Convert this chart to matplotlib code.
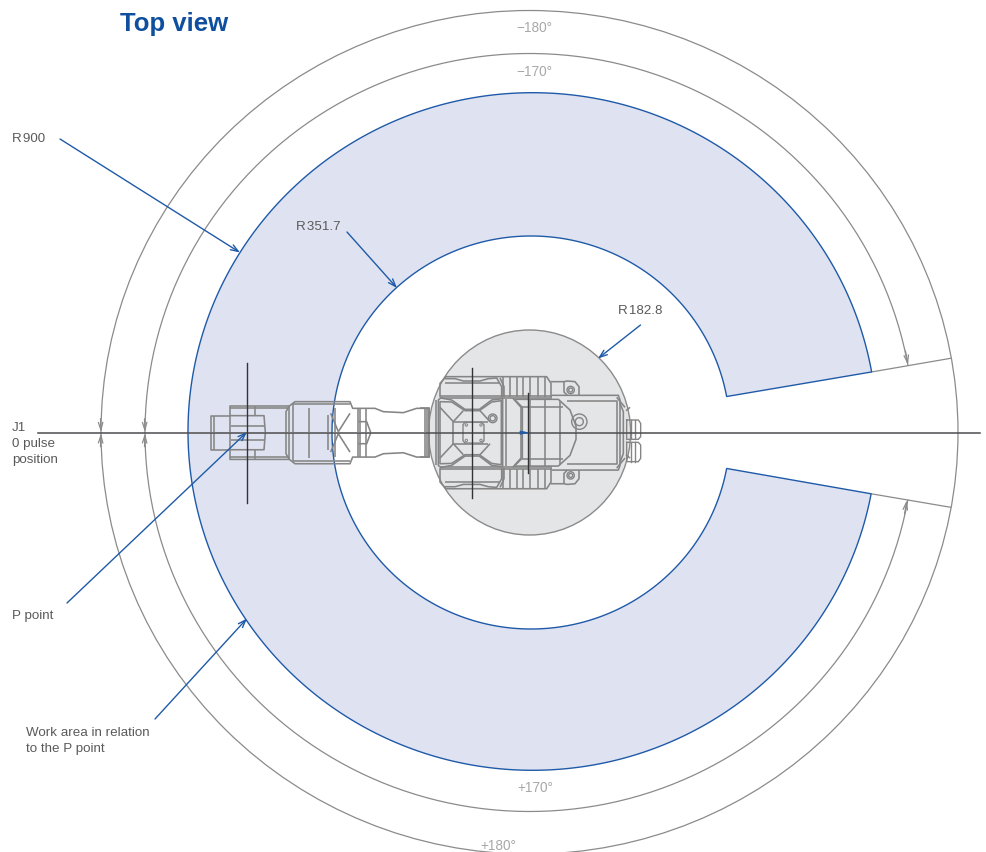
import numpy as np
import matplotlib
matplotlib.use("Agg")
import matplotlib.pyplot as plt
from matplotlib.patches import Ellipse, Polygon, Circle

plt.rcParams['font.family'] = ['Liberation Sans', 'DejaVu Sans']

# --- values (pixel frame of the drawing) ---
title = "Top view"
limit_labels = ["\u2212180\u00b0", "\u2212170\u00b0", "+170\u00b0", "+180\u00b0"]
limit_label_x = [534, 534, 535, 498]
limit_label_y = [28.5, 72.5, 788.5, 845.5]
call_labels = ["R\u200a900", "R\u200a351.7", "R\u200a182.8", "J1\n0 pulse\nposition", "P point", "Work area in relation\nto the P point"]
call_x = [12, 296, 618, 12, 12, 26]
call_y = [139.5, 226.5, 310.5, 444, 616.5, 741]
leader_from = [(60, 139), (347, 232), (640.5, 325), (67, 603), (155, 719)]
leader_to = [(240, 252.5), (397, 288), (598, 358.5), (247, 432), (247, 618.5)]

outer_180 = (529.5, 432.3, 428.5, 421.8)   # cx, cy, rx, ry
outer_170 = (529.5, 432.5, 384.5, 379.0)
area_outer = (532.5, 431.5, 344.5, 338.8)
area_inner = (531.0, 432.5, 199.0, 196.5)
base_circle = (529.6, 432.5, 101.0, 102.5)
corner_outer_up = (871.3, 372.0)
corner_inner_up = (725.7, 396.7)
corner_outer_lo = (870.7, 493.7)
corner_inner_lo = (725.7, 468.3)
limit_end_up = (950.7, 358.3)
limit_end_lo = (950.7, 507.3)
arc170_end_up = (908.0, 365.0)
arc170_end_lo = (907.0, 500.0)
axis_y = 432.7
axis_x = (38, 980)
tick_x = [101, 145]

# robot outline, upper half, crops of the base (z1) and of the arm end (z2)
base_poly = [
    [(60, 232), (60, 190), (78, 170), (380, 170), (393, 190), (393, 232)],
    [(60, 228), (395, 228)], [(60, 234), (395, 234)], [(75, 190), (240, 190)],
    [(75, 176), (105, 176), (130, 183), (180, 183), (205, 176), (230, 174), (245, 200), (245, 232)],
    [(240, 174), (252, 200), (252, 232)],
    [(250, 172), (250, 230)], [(270, 172), (270, 230)], [(290, 172), (290, 230)], [(310, 172), (310, 230)],
    [(330, 172), (330, 230)], [(355, 172), (355, 230)], [(375, 172), (375, 230)],
    [(55, 338), (55, 240), (62, 234), (95, 240), (135, 268), (178, 268), (215, 240), (248, 236), (248, 338)],
    [(60, 338), (60, 245), (95, 246), (135, 272), (178, 272), (215, 246), (244, 242), (244, 338)],
    [(100, 305), (130, 272)], [(210, 305), (180, 272)], [(100, 305), (205, 305)], [(100, 305), (100, 338)],
    [(60, 262), (100, 305)],
    [(258, 238), (258, 338)], [(278, 234), (303, 262), (303, 338)], [(283, 238), (307, 262), (307, 338)],
    [(285, 238), (415, 238), (450, 270), (468, 318), (468, 338)],
    [(330, 238), (330, 338)], [(375, 238), (375, 338)], [(420, 242), (420, 338)], [(305, 260), (430, 260)],
    [(395, 226), (595, 226), (600, 240), (600, 338)], [(440, 244), (590, 244), (590, 338)],
    [(392, 185), (432, 185), (442, 183), (465, 185), (477, 200), (477, 226)],
    [(432, 185), (432, 216), (442, 226)],
    [(610, 338), (610, 275), (600, 250)],
    [(618, 272), (630, 262)], [(590, 232), (615, 262)],
    [(0, 265), (28, 265), (28, 338)], [(20, 265), (20, 338)], [(48, 240), (48, 338)],
]
single_lines = [
    [(620, 300), (655, 300), (662, 310), (662, 350), (655, 358), (620, 358), (620, 300)],
    [(632, 300), (632, 358)], [(645, 300), (645, 358)],
    [(620, 367), (655, 367), (662, 375), (662, 415), (655, 425), (620, 425), (620, 367)],
    [(632, 367), (632, 425)], [(645, 367), (645, 425)],
]
base_rings = [(452, 210, 11), (452, 210, 6)]
single_rings = [(478, 305, 23), (478, 305, 12), (218, 295, 13), (218, 295, 8)]
base_bolts = [(139, 315), (183, 315)]
plate = [(135, 307), (185, 307), (192, 314), (192, 338)]
plate_left = [(135, 307), (129, 314), (129, 338)]
arm_poly = [
    [(62, 157), (62, 107), (120, 107)], [(72, 107), (72, 157)],
    [(120, 157), (120, 78), (298, 78), (315, 65), (480, 65), (488, 85), (555, 85), (580, 95), (640, 98), (680, 85), (720, 85)],
    [(120, 84), (298, 84)],
    [(120, 107), (222, 107), (226, 157)], [(122, 137), (225, 137)],
    [(196, 78), (196, 107)], [(288, 157), (288, 95), (298, 78)], [(298, 157), (298, 78)], [(308, 157), (308, 72)],
    [(358, 83), (358, 157)], [(310, 72), (480, 72)], [(415, 105), (415, 157)],
    [(435, 157), (435, 85)], [(480, 100), (445, 155)], [(422, 100), (445, 155)],
    [(505, 85), (505, 157)], [(510, 85), (510, 157)], [(528, 85), (528, 157)],
    [(505, 125), (530, 125), (542, 157)], [(706, 157), (706, 85)], [(716, 157), (716, 85)],
]
cross_x = [472.3, 528.3, 247.3]
cross_half = [65, 40, 70]

GREY, BODY, DARK, BLUE, TXT, LIGHT = "#8b8b8b", "#858585", "#4d4d4f", "#1f5aa8", "#5a5a5c", "#a8a8aa"

fig = plt.figure(figsize=(9.87, 8.52), dpi=100)
ax = fig.add_axes([0, 0, 1, 1])
ax.set_xlim(0, 987)
ax.set_ylim(852, 0)
ax.axis("off")


def param(e, p):
    return np.arctan2((p[1] - e[1]) / e[3], (p[0] - e[0]) / e[2])


def arc(e, p_lo, p_up):
    # runs round the far side of the ellipse, from the lower end to the upper end
    t0 = param(e, p_lo)
    t1 = param(e, p_up) % (2 * np.pi)
    t = np.linspace(t0, t1, 400)
    return e[0] + e[2] * np.cos(t), e[1] + e[3] * np.sin(t)


def z1(p):
    return 420 + p[0] / 3, 320 + p[1] / 3


def z2(p):
    return 190 + p[0] / 3, 380 + p[1] / 3


# work area
xo, yo = arc(area_outer, corner_outer_lo, corner_outer_up)
xi, yi = arc(area_inner, corner_inner_lo, corner_inner_up)
pts = np.column_stack([np.r_[xo, xi[::-1]], np.r_[yo, yi[::-1]]])
ax.add_patch(Polygon(pts, closed=True, fc="#dfe3f1", ec=BLUE, lw=1.0, zorder=2))

# limit circles
ax.add_patch(Ellipse(outer_180[:2], 2 * outer_180[2], 2 * outer_180[3], fc="none", ec=GREY, lw=0.9, zorder=1))
xa, ya = arc(outer_170, arc170_end_lo, arc170_end_up)
ax.plot(xa, ya, color=GREY, lw=0.9, zorder=1)
ax.plot(*zip(corner_outer_up, limit_end_up), color=GREY, lw=0.9, zorder=1)
ax.plot(*zip(corner_outer_lo, limit_end_lo), color=GREY, lw=0.9, zorder=1)

# base circle
ax.add_patch(Ellipse(base_circle[:2], 2 * base_circle[2], 2 * base_circle[3], fc="#e4e5e7", ec=GREY, lw=1.0, zorder=3))

# robot, mirrored about the J1 line
for shape, zf in ((base_poly, z1), (arm_poly, z2)):
    for line in shape:
        P = np.array([zf(p) for p in line])
        ax.plot(P[:, 0], P[:, 1], color=BODY, lw=1.15, zorder=4, solid_capstyle="butt")
        ax.plot(P[:, 0], 2 * axis_y - P[:, 1], color=BODY, lw=1.15, zorder=4, solid_capstyle="butt")
for line in (plate, plate_left):
    P = np.array([z1(p) for p in line])
    ax.plot(P[:, 0], P[:, 1], color=BODY, lw=1.0, zorder=4)
    ax.plot(P[:, 0], 2 * axis_y - P[:, 1], color=BODY, lw=1.0, zorder=4)
for line in single_lines:
    P = np.array([z1(p) for p in line])
    ax.plot(P[:, 0], P[:, 1], color=BODY, lw=1.0, zorder=4)
for cx, cy, r in base_rings:
    x, y = z1((cx, cy))
    for yy in (y, 2 * axis_y - y):
        ax.add_patch(Circle((x, yy), r / 3, fc="none", ec=BODY, lw=1.0, zorder=4))
for cx, cy, r in single_rings:
    ax.add_patch(Circle(z1((cx, cy)), r / 3, fc="none", ec=BODY, lw=1.0, zorder=4))
for b in base_bolts:
    x, y = z1(b)
    for yy in (y, 2 * axis_y - y):
        ax.add_patch(Circle((x, yy), 1.2, fc="none", ec=BODY, lw=0.7, zorder=4))

# J1 line and centre marks
ax.plot(axis_x, [axis_y, axis_y], color=DARK, lw=1.1, zorder=6)
for cxx, h in zip(cross_x, cross_half):
    ax.plot([cxx, cxx], [axis_y - h, axis_y + h], color="#333335", lw=1.0, zorder=6)
P = np.array([(z1((300, 333))), z1((325, 338)), z1((300, 343))])
ax.add_patch(Polygon(P, closed=True, fc=BLUE, ec=BLUE, lw=0.5, zorder=7))

# grey angle arrows
grey_head = dict(arrowstyle="->,head_length=0.55,head_width=0.16", color=GREY, lw=0.9, shrinkA=0, shrinkB=0)
for tx in tick_x:
    ax.annotate("", xy=(tx, axis_y - 0.5), xytext=(tx - 0.5, axis_y - 14), arrowprops=grey_head, zorder=7)
    ax.annotate("", xy=(tx, axis_y + 0.5), xytext=(tx - 0.5, axis_y + 14), arrowprops=grey_head, zorder=7)
ax.annotate("", xy=arc170_end_up, xytext=(arc170_end_up[0] - 2.5, arc170_end_up[1] - 14), arrowprops=grey_head, zorder=7)
ax.annotate("", xy=arc170_end_lo, xytext=(arc170_end_lo[0] - 2.5, arc170_end_lo[1] + 14), arrowprops=grey_head, zorder=7)

# leaders
blue_head = dict(arrowstyle="->,head_length=0.55,head_width=0.2", color=BLUE, lw=1.0, shrinkA=0, shrinkB=0)
for a, b in zip(leader_from, leader_to):
    ax.annotate("", xy=b, xytext=a, arrowprops=blue_head, zorder=8)

# text
ax.text(120, 23.5, title, color="#0f4fa0", fontsize=18.5, fontweight="bold", ha="left", va="center", zorder=9)
for s, x, y in zip(limit_labels, limit_label_x, limit_label_y):
    ax.text(x, y, s, color=LIGHT, fontsize=9.8, ha="center", va="center", zorder=9)
for s, x, y in zip(call_labels, call_x, call_y):
    ax.text(x, y, s, color=TXT, fontsize=9.6, ha="left", va="center", linespacing=1.42, zorder=9)

fig.savefig("out.png", dpi=100)
